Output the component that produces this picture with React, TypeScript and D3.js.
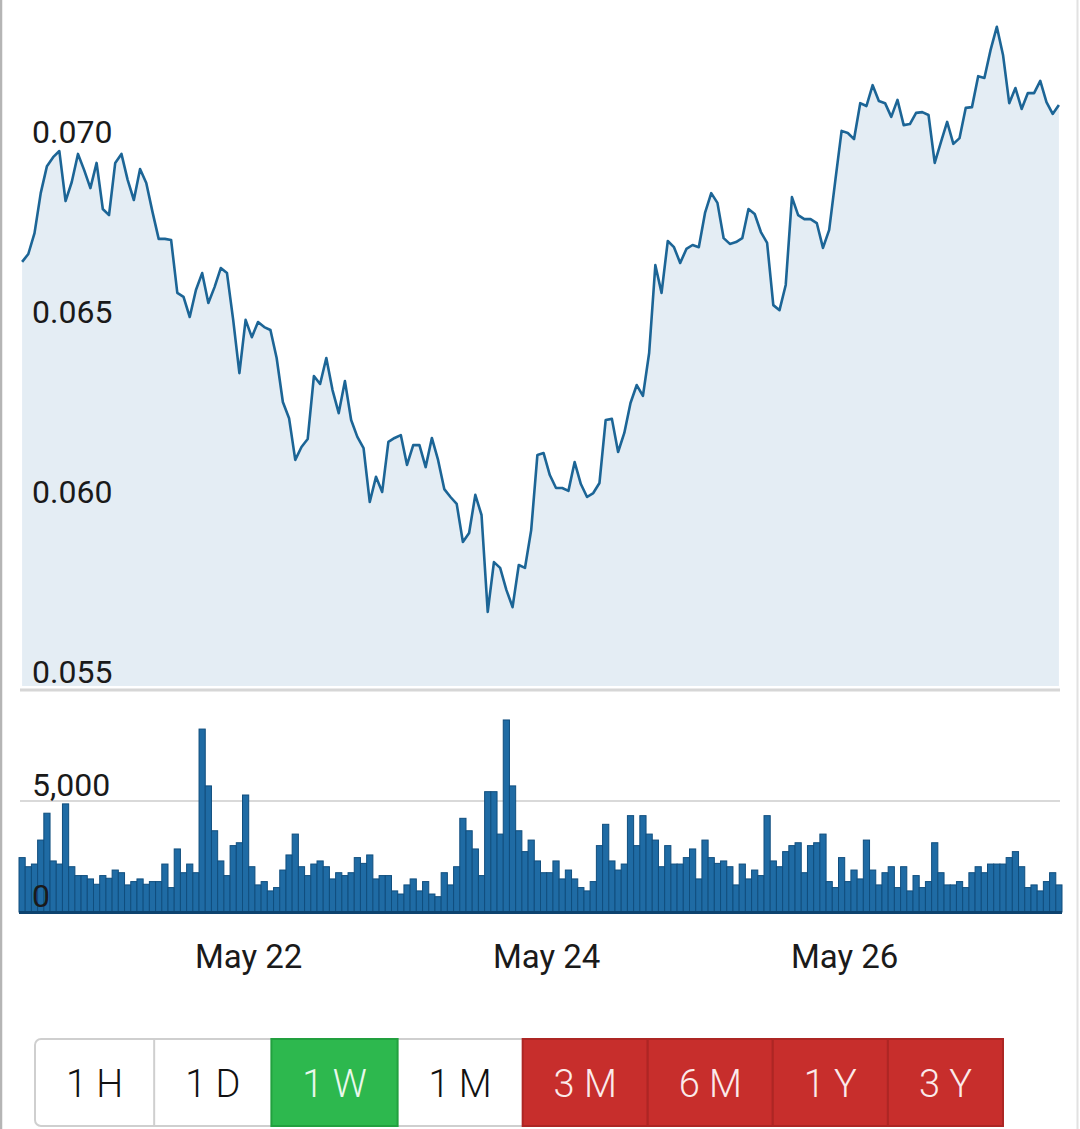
import { useMemo } from 'react';
import * as d3 from 'd3';

// hourly candles for one week, starting May 20 11:30
const START = new Date(2021, 4, 20, 11, 30);
const HOUR = 3600 * 1000;

const PRICE = [
  0.06678, 0.06700, 0.06758, 0.06869, 0.06944, 0.06969, 0.06986, 0.06847, 0.06900, 0.06978,
  0.06933, 0.06883, 0.06953, 0.06825, 0.06808, 0.06953, 0.06978, 0.06906, 0.06850, 0.06936,
  0.06897, 0.06817, 0.06742, 0.06742, 0.06739, 0.06592, 0.06581, 0.06525, 0.06600, 0.06647,
  0.06564, 0.06608, 0.06661, 0.06647, 0.06517, 0.06369, 0.06517, 0.06469, 0.06511, 0.06497,
  0.06489, 0.06411, 0.06289, 0.06244, 0.06128, 0.06164, 0.06186, 0.06361, 0.06339, 0.06411,
  0.06322, 0.06258, 0.06347, 0.06239, 0.06192, 0.06161, 0.06011, 0.06081, 0.06039, 0.06178,
  0.06189, 0.06197, 0.06114, 0.06169, 0.06169, 0.06108, 0.06189, 0.06128, 0.06047, 0.06025,
  0.06006, 0.05900, 0.05925, 0.06031, 0.05975, 0.05706, 0.05844, 0.05828, 0.05767, 0.05719,
  0.05836, 0.05828, 0.05933, 0.06142, 0.06147, 0.06086, 0.06050, 0.06050, 0.06042, 0.06122,
  0.06061, 0.06025, 0.06036, 0.06064, 0.06239, 0.06242, 0.06150, 0.06203, 0.06286, 0.06336,
  0.06306, 0.06425, 0.06669, 0.06592, 0.06736, 0.06719, 0.06675, 0.06714, 0.06725, 0.06719,
  0.06814, 0.06869, 0.06842, 0.06744, 0.06728, 0.06733, 0.06744, 0.06825, 0.06811, 0.06761,
  0.06731, 0.06558, 0.06544, 0.06614, 0.06858, 0.06808, 0.06797, 0.06797, 0.06786, 0.06717,
  0.06767, 0.06906, 0.07042, 0.07036, 0.07019, 0.07119, 0.07111, 0.07169, 0.07125, 0.07119,
  0.07081, 0.07128, 0.07058, 0.07061, 0.07092, 0.07094, 0.07086, 0.06953, 0.07011, 0.07067,
  0.07006, 0.07022, 0.07106, 0.07108, 0.07194, 0.07189, 0.07267, 0.07331, 0.07253, 0.07119,
  0.07161, 0.07103, 0.07147, 0.07147, 0.07181, 0.07122, 0.07089, 0.07114,
];

const VOLUME = [
  2450, 2040, 2160, 3240, 4450, 2300, 2160, 4870, 2040, 1640,
  1640, 1490, 1250, 1640, 1520, 1890, 1770, 1220, 1370, 1490,
  1250, 1370, 1370, 2160, 1100, 2840, 1770, 2160, 1770, 8240,
  5680, 3660, 2300, 1640, 2990, 3120, 5270, 2040, 1220, 1370,
  950, 1100, 1890, 2570, 3510, 2040, 1640, 2160, 2300, 2040,
  1490, 1770, 1640, 1770, 2450, 2190, 2570, 1490, 1640, 1640,
  950, 810, 1220, 1490, 950, 1370, 810, 690, 1770, 1220,
  2040, 4220, 3660, 2840, 1640, 5420, 5420, 3510, 8650, 5680,
  3660, 2720, 3240, 2300, 1770, 1770, 2300, 1490, 1890, 1490,
  1100, 950, 1370, 2990, 3950, 2300, 1890, 2160, 4340, 2990,
  4340, 3510, 3240, 2040, 2990, 2160, 2160, 2450, 2840, 1490,
  3240, 2450, 2190, 2300, 2040, 1220, 2160, 1490, 1890, 1640,
  4340, 2300, 2040, 2720, 2990, 3120, 1770, 2990, 3120, 3510,
  1370, 1100, 2450, 1370, 1890, 1490, 3240, 1890, 1220, 1770,
  2040, 1100, 2040, 950, 1640, 1100, 1370, 3120, 1770, 1220,
  1220, 1370, 1100, 1770, 2040, 1770, 2160, 2160, 2160, 2450,
  2720, 2040, 1100, 1220, 950, 1370, 1770, 1220,
];

const PRICE_TICKS = [0.055, 0.06, 0.065, 0.07];
const VOLUME_TICKS = [0, 5000];
const DATE_TICKS = [new Date(2021, 4, 22), new Date(2021, 4, 24), new Date(2021, 4, 26)];

const RANGES = ['1 H', '1 D', '1 W', '1 M', '3 M', '6 M', '1 Y', '3 Y'];
const ACTIVE_RANGE = '1 W';
const LOCKED_RANGES = ['3 M', '6 M', '1 Y', '3 Y'];

const WIDTH = 1080;
const HEIGHT = 1129;
const LABEL_FONT = 'Roboto, "Noto Sans", sans-serif';
const BUTTON_FONT_SIZE = 38;

function measureLabels(labels: string[], font: string) {
  const ctx = document.createElement('canvas').getContext('2d');
  if (!ctx) return labels.map(() => 60);
  ctx.font = font;
  return labels.map(l => ctx.measureText(l).width);
}

export default function App() {
  const times = useMemo(() => PRICE.map((_, i) => new Date(START.getTime() + i * HOUR)), []);

  const x = d3.scaleTime()
    .domain([new Date(START.getTime() - HOUR / 2), new Date(times[times.length - 1].getTime() + HOUR / 2)])
    .range([19, 1062]);

  const yPrice = d3.scaleLinear().domain([0.055, 0.07]).range([686, 146]);
  const yVol = d3.scaleLinear().domain([0, 5000]).range([912, 801]);

  const area = d3.area<number>()
    .x((_, i) => x(times[i]))
    .y0(yPrice(0.055))
    .y1(d => yPrice(d));

  const line = d3.line<number>()
    .x((_, i) => x(times[i]))
    .y(d => yPrice(d));

  const fmtDate = d3.timeFormat('%b %d');
  const fmtVol = d3.format(',');

  // range selector: widths follow text width, stretched to fill the row
  const buttons = useMemo(() => {
    const tw = measureLabels(RANGES, `300 ${BUTTON_FONT_SIZE}px Roboto`);
    const raw = tw.map(w => w + 64);
    const total = d3.sum(raw);
    const scale = (1003 - 35) / total;
    const edges = [0, ...d3.cumsum(raw)].map(v => 35 + v * scale);
    return RANGES.map((label, i) => ({ label, x0: edges[i], x1: edges[i + 1] }));
  }, []);

  const btnTop = 1039;
  const btnBottom = 1126;

  return (
    <svg
      width={WIDTH}
      height={HEIGHT}
      style={{ position: 'absolute', left: 0, top: 0, display: 'block', background: '#fff' }}
    >
      {/* frame */}
      <line x1={1} x2={1} y1={0} y2={HEIGHT} stroke="#b5b5b5" strokeWidth={2.5} />
      <line x1={1077.5} x2={1077.5} y1={0} y2={HEIGHT} stroke="#e2e2e2" strokeWidth={2} />

      {/* price chart */}
      <path d={area(PRICE) ?? ''} fill="#e4edf4" />
      <path d={line(PRICE) ?? ''} fill="none" stroke="#1c6596" strokeWidth={2.6} strokeLinejoin="round" />
      <line x1={20} x2={1060} y1={690} y2={690} stroke="#d6d6d6" strokeWidth={3} />

      {/* volume chart */}
      {VOLUME_TICKS.filter(v => v > 0).map(v => (
        <line key={v} x1={20} x2={1060} y1={yVol(v)} y2={yVol(v)} stroke="#d9d9d9" strokeWidth={2} />
      ))}
      {VOLUME.map((v, i) => {
        const x0 = x(new Date(times[i].getTime() - HOUR / 2));
        const x1 = x(new Date(times[i].getTime() + HOUR / 2));
        return (
          <rect
            key={i}
            x={x0}
            y={yVol(v)}
            width={x1 - x0}
            height={yVol(0) - yVol(v)}
            fill="#1f6ba4"
            stroke="#104e7e"
            strokeWidth={1}
          />
        );
      })}
      <line x1={19} x2={1062} y1={912.5} y2={912.5} stroke="#0d436f" strokeWidth={3} />

      {/* axis labels */}
      {PRICE_TICKS.map(t => (
        <text key={t} x={32} y={yPrice(t) - 3} fontFamily={LABEL_FONT} fontSize={32} fill="#1a1a1a">
          {t.toFixed(3)}
        </text>
      ))}
      {VOLUME_TICKS.map(t => (
        <text key={t} x={32} y={yVol(t) - 5} fontFamily={LABEL_FONT} fontSize={32} fill="#1a1a1a">
          {fmtVol(t)}
        </text>
      ))}
      {DATE_TICKS.map(d => (
        <text
          key={d.getTime()}
          x={x(d)}
          y={968}
          textAnchor="middle"
          fontFamily={LABEL_FONT}
          fontSize={33}
          fill="#1a1a1a"
        >
          {fmtDate(d)}
        </text>
      ))}

      {/* range selector */}
      <rect
        x={35}
        y={btnTop}
        width={1003 - 35}
        height={btnBottom - btnTop}
        rx={6}
        fill="#fff"
        stroke="#cfcfcf"
        strokeWidth={2}
      />
      {buttons.map(({ label, x0, x1 }, i) => {
        const active = label === ACTIVE_RANGE;
        const locked = LOCKED_RANGES.includes(label);
        const fill = active ? '#2db84e' : locked ? '#c72e2c' : 'none';
        const stroke = active ? '#22a03f' : locked ? '#ad2624' : 'none';
        return (
          <g key={label}>
            {(active || locked) && (
              <rect x={x0} y={btnTop} width={x1 - x0} height={btnBottom - btnTop} fill={fill} stroke={stroke} strokeWidth={2} />
            )}
            {i > 0 && !active && !locked && buttons[i - 1].label !== ACTIVE_RANGE && (
              <line x1={x0} x2={x0} y1={btnTop} y2={btnBottom} stroke="#cfcfcf" strokeWidth={2} />
            )}
            <text
              x={(x0 + x1) / 2}
              y={(btnTop + btnBottom) / 2 + 14}
              textAnchor="middle"
              fontFamily={LABEL_FONT}
              fontWeight={300}
              fontSize={BUTTON_FONT_SIZE}
              fill={active ? '#e9f8ec' : locked ? '#fbeaea' : '#111'}
            >
              {label}
            </text>
          </g>
        );
      })}
    </svg>
  );
}
